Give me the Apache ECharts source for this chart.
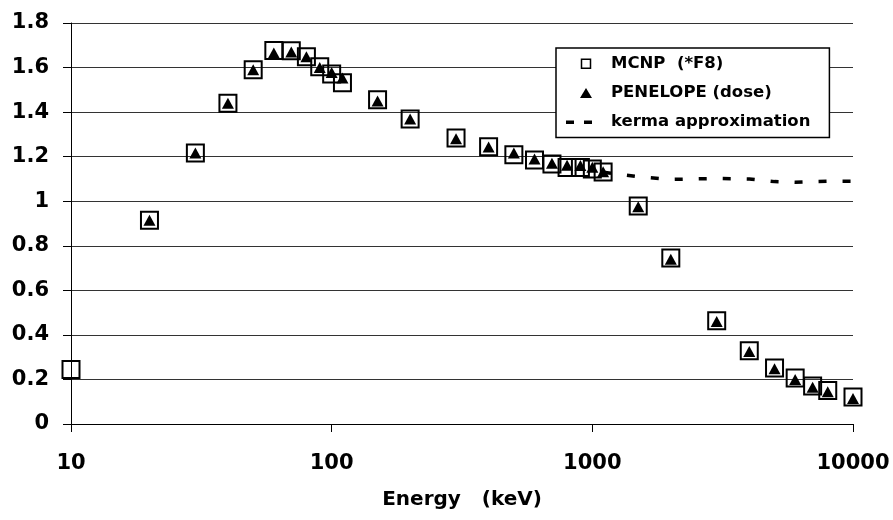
<!DOCTYPE html>
<html>
<head>
<meta charset="utf-8">
<script src="https://cdn.jsdelivr.net/npm/echarts@6/dist/echarts.min.js"></script>
<style>
  html, body { margin: 0; padding: 0; background: #fff; }
  #chart { width: 893px; height: 520px; }
</style>
</head>
<body>
<div id="chart"></div>
<script>
// energies in keV
const mcnpEnergy = [10, 20, 30, 40, 50, 60, 70, 80, 90, 100, 110, 150, 200, 300, 400, 500, 600, 700, 800, 900, 1000, 1100, 1500, 2000, 3000, 4000, 5000, 6000, 7000, 8000, 10000]
const mcnpValue = [0.245, 0.915, 1.216, 1.44, 1.59, 1.677, 1.675, 1.649, 1.604, 1.571, 1.532, 1.455, 1.369, 1.284, 1.245, 1.209, 1.185, 1.167, 1.151, 1.151, 1.145, 1.131, 0.979, 0.745, 0.463, 0.329, 0.251, 0.206, 0.171, 0.150, 0.121]

const penEnergy = [20, 30, 40, 50, 60, 70, 80, 90, 100, 110, 150, 200, 300, 400, 500, 600, 700, 800, 900, 1000, 1100, 1500, 2000, 3000, 4000, 5000, 6000, 7000, 8000, 10000]
const penValue = [0.915, 1.216, 1.44, 1.59, 1.665, 1.67, 1.648, 1.60, 1.578, 1.553, 1.45, 1.369, 1.28, 1.243, 1.216, 1.189, 1.17, 1.162, 1.16, 1.153, 1.132, 0.975, 0.74, 0.46, 0.325, 0.248, 0.2, 0.165, 0.145, 0.115]

const kermaEnergy = [1100, 1500, 2000, 3000, 4000, 5000, 6000, 7000, 8000, 10000]
const kermaValue = [1.13, 1.11, 1.098, 1.102, 1.1, 1.088, 1.085, 1.088, 1.09, 1.09]

const seriesNames = ['MCNP  (*F8)', 'PENELOPE (dose)', 'kerma approximation']

const zip = (xs, ys) => xs.map((x, i) => [x, ys[i]])
const font = 'DejaVu Sans'

const chart = echarts.init(document.getElementById('chart'), null, {renderer: 'canvas'})

chart.setOption({
  animation: false,
  backgroundColor: '#fff',
  grid: {left: 71, right: 40, top: 23, bottom: 96, containLabel: false},
  legend: {
    orient: 'vertical',
    left: 556,
    top: 48,
    padding: [7, 19, 7, 10],
    itemGap: 12,
    itemWidth: 40,
    itemHeight: 16,
    backgroundColor: '#fff',
    borderColor: '#000',
    borderWidth: 1.5,
    borderRadius: 0,
    textStyle: {fontFamily: font, fontWeight: 'bold', fontSize: 16.5, color: '#000'},
    data: [
      {
        name: seriesNames[0],
        icon: 'path://M0,0M16,16M3.5,3.5L12.5,3.5L12.5,12.5L3.5,12.5Z',
        itemStyle: {color: '#fff', borderColor: '#000', borderWidth: 1.5}
      },
      {
        name: seriesNames[1],
        icon: 'path://M0,0M16,16M8,3L14,13L2,13Z',
        itemStyle: {color: '#000', borderWidth: 0}
      },
      {
        // two short dashes like the spreadsheet legend
        name: seriesNames[2],
        icon: 'path://M0,0M40,16M0,6.5L8,6.5L8,10L0,10Z M18,6.5L26,6.5L26,10L18,10Z',
        itemStyle: {color: '#000', borderWidth: 0}
      }
    ]
  },
  xAxis: {
    type: 'log',
    logBase: 10,
    min: 10,
    max: 10000,
    name: 'Energy   (keV)',
    nameLocation: 'middle',
    nameGap: 66,
    nameTextStyle: {fontFamily: font, fontWeight: 'bold', fontSize: 20, color: '#000'},
    axisLine: {lineStyle: {color: '#000', width: 1}},
    axisTick: {show: true, length: 8, lineStyle: {color: '#000'}},
    minorTick: {show: false},
    splitLine: {show: false},
    axisLabel: {
      fontFamily: font, fontWeight: 'bold', fontSize: 21, color: '#000', margin: 29,
      formatter: v => String(Math.round(v))
    }
  },
  yAxis: {
    type: 'value',
    min: 0,
    max: 1.8,
    interval: 0.2,
    axisLine: {show: true, lineStyle: {color: '#000', width: 1}},
    axisTick: {show: true, length: 8, lineStyle: {color: '#000'}},
    splitLine: {show: true, lineStyle: {color: '#333', width: 1}},
    axisLabel: {fontFamily: font, fontWeight: 'bold', fontSize: 21, color: '#000', margin: 22}
  },
  series: [
    {
      name: seriesNames[0],
      type: 'scatter',
      z: 3,
      symbol: 'rect',
      symbolSize: 17,
      itemStyle: {color: 'rgba(0,0,0,0)', borderColor: '#000', borderWidth: 2, opacity: 1},
      data: zip(mcnpEnergy, mcnpValue)
    },
    {
      name: seriesNames[1],
      type: 'scatter',
      z: 4,
      symbol: 'triangle',
      symbolSize: [12, 11],
      itemStyle: {color: '#000', opacity: 1},
      data: zip(penEnergy, penValue)
    },
    {
      name: seriesNames[2],
      type: 'line',
      z: 2,
      symbol: 'none',
      showSymbol: false,
      lineStyle: {color: '#000', width: 3.5, type: [8, 16]},
      itemStyle: {color: '#000'},
      data: zip(kermaEnergy, kermaValue)
    }
  ]
})
</script>
</body>
</html>
